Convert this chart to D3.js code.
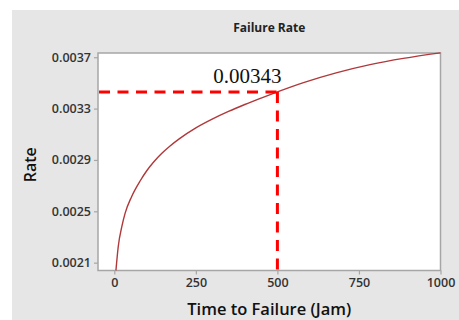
<!DOCTYPE html>
<html>
<head>
<meta charset="utf-8">
<script src="https://cdn.jsdelivr.net/npm/d3@7"></script>
<style>
  body { margin: 0; background: #fff; }
  svg { display: block; }
  .tick text { font-family: "Open Sans", sans-serif; font-weight: 600; fill: #333; }
</style>
</head>
<body>
<svg width="459" height="320"></svg>
<script>
// curve
var times = [5, 12, 23, 33, 53, 80, 100, 120, 145, 170, 200, 250, 300, 350, 400, 450, 500, 580, 680, 784, 886, 1000];
var rates = [0.00204, 0.002224, 0.00238, 0.002484, 0.002614, 0.00274, 0.002818, 0.002882, 0.00295, 0.003007,
             0.003066, 0.00315, 0.003218, 0.003278, 0.003332, 0.003382, 0.00343, 0.003502, 0.003578, 0.003642,
             0.003691, 0.003734];
var xTicks = [0, 250, 500, 750, 1000];
var yTicks = [0.0021, 0.0025, 0.0029, 0.0033, 0.0037];
var markTime = 500, markRate = 0.00343;

var svg = d3.select("svg");
var m = {left: 98, right: 440.5, top: 53, bottom: 270.5};

// panel background
svg.append("rect")
  .attr("x", 12).attr("y", 10)
  .attr("width", 459 - 12).attr("height", 320 - 10)
  .attr("fill", "#e6e6e6");

var x = d3.scaleLinear().domain([-50, 1000]).range([m.left, m.right]);
var y = d3.scaleLinear().domain([0.002039, 0.003733]).range([m.bottom, m.top]);

svg.append("rect")
  .attr("x", m.left).attr("y", m.top)
  .attr("width", m.right - m.left).attr("height", m.bottom - m.top)
  .attr("fill", "#fff")
  .attr("stroke", "#a6a6a6").attr("stroke-width", 1.5);

// axes
var xAxis = svg.append("g")
  .attr("transform", "translate(0," + m.bottom + ")")
  .call(d3.axisBottom(x).tickValues(xTicks).tickFormat(d3.format("d")).tickSize(4).tickPadding(4));
var yAxis = svg.append("g")
  .attr("transform", "translate(" + m.left + ",0)")
  .call(d3.axisLeft(y).tickValues(yTicks).tickFormat(d3.format(".4f")).tickSize(4).tickPadding(3));

[xAxis, yAxis].forEach(function(a) {
  a.select(".domain").remove();
  a.selectAll(".tick line").attr("stroke", "#a6a6a6").attr("stroke-width", 1.2);
  a.selectAll(".tick text").style("font-size", "12.5px");
});

// curve
var line = d3.line()
  .x(function(d, i) { return x(times[i]); })
  .y(function(d) { return y(d); })
  .curve(d3.curveMonotoneX);

svg.append("path")
  .datum(rates)
  .attr("d", line)
  .attr("fill", "none")
  .attr("stroke", "#b0383a")
  .attr("stroke-width", 1.4);

// marker lines
svg.append("line")
  .attr("x1", m.left + 1).attr("x2", x(markTime))
  .attr("y1", y(markRate)).attr("y2", y(markRate))
  .attr("stroke", "#ff0000").attr("stroke-width", 3)
  .attr("stroke-dasharray", "11,7.5");
svg.append("line")
  .attr("x1", x(markTime)).attr("x2", x(markTime))
  .attr("y1", y(markRate)).attr("y2", m.bottom)
  .attr("stroke", "#ff0000").attr("stroke-width", 3)
  .attr("stroke-dasharray", "11,7.5");

svg.append("text")
  .attr("x", x(markTime) - 30).attr("y", 82.5)
  .attr("text-anchor", "middle")
  .style("font-family", "'Liberation Serif', 'Times New Roman', serif")
  .style("font-size", "21px")
  .attr("fill", "#111")
  .text("0.00343");

// titles
svg.append("text")
  .attr("x", (m.left + m.right) / 2).attr("y", 32)
  .attr("text-anchor", "middle")
  .style("font-family", "'Open Sans', sans-serif")
  .style("font-weight", 700).style("font-size", "12px")
  .attr("fill", "#222")
  .text("Failure Rate");

svg.append("text")
  .attr("x", (m.left + m.right) / 2).attr("y", 315)
  .attr("text-anchor", "middle")
  .style("font-family", "'Open Sans', sans-serif")
  .style("font-weight", 600).style("font-size", "16.5px")
  .attr("fill", "#111")
  .text("Time to Failure (Jam)");

svg.append("text")
  .attr("transform", "translate(36," + ((m.top + m.bottom) / 2 + 3) + ") rotate(-90)")
  .attr("text-anchor", "middle")
  .style("font-family", "'Open Sans', sans-serif")
  .style("font-weight", 600).style("font-size", "16px")
  .attr("fill", "#111")
  .text("Rate");
</script>
</body>
</html>
